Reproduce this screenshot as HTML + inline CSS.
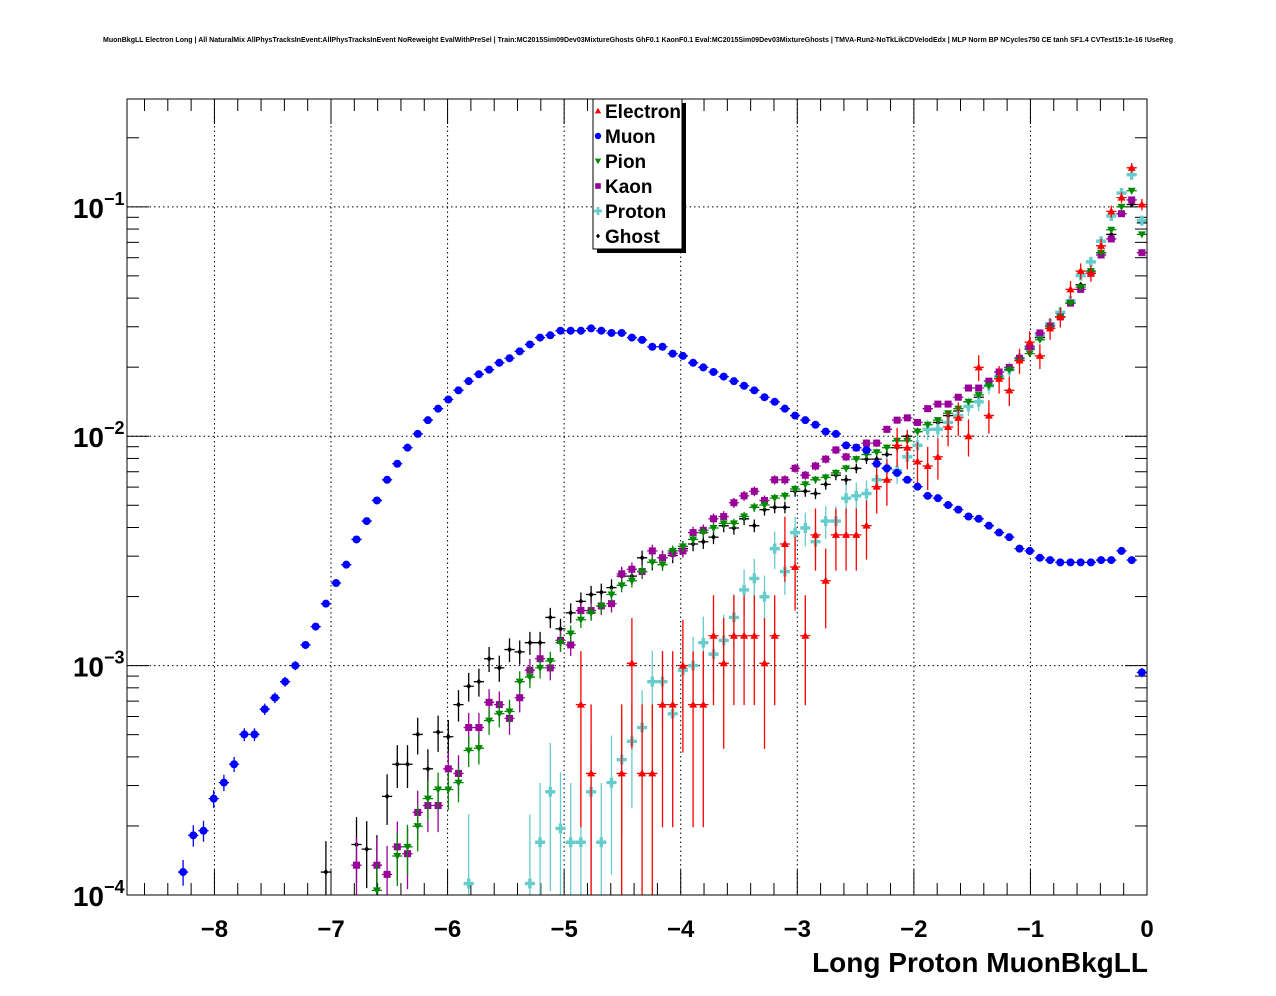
<!DOCTYPE html>
<html><head><meta charset="utf-8"><style>
html,body{margin:0;padding:0;background:#fff}
svg{display:block}
text{font-family:"Liberation Sans",Arial,sans-serif;font-weight:bold}
</style></head><body>
<svg id="chart" width="1276" height="996" viewBox="0 0 1276 996" xmlns="http://www.w3.org/2000/svg">
<rect x="0" y="0" width="1276" height="996" fill="#fff"/>
<text x="638" y="42" font-size="7" text-anchor="middle" textLength="1070" lengthAdjust="spacingAndGlyphs">MuonBkgLL Electron Long | All NaturalMix AllPhysTracksInEvent:AllPhysTracksInEvent NoReweight EvalWithPreSel | Train:MC2015Sim09Dev03MixtureGhosts GhF0.1 KaonF0.1 Eval:MC2015Sim09Dev03MixtureGhosts | TMVA-Run2-NoTkLikCDVelodEdx | MLP Norm BP NCycles750 CE tanh SF1.4 CVTest15:1e-16 !UseReg</text>
<g id="grid"></g>
<g id="axes"></g>
<g id="series"></g>
<rect x="127" y="99" width="1020" height="796" fill="none" stroke="#000" stroke-width="1"/>
<g id="legend">
<rect x="597" y="103" width="89" height="150" fill="#000"/>
<rect x="593" y="99" width="89" height="150" fill="#fff" stroke="#000" stroke-width="1"/>
</g>
<text x="1148" y="972" font-size="28" text-anchor="end">Long Proton MuonBkgLL</text>
</svg>
<script>
// ---- data (log10 of normalised entries per bin; bins of width 0.0875 from -8.75) ----
const binLow = -8.75;
const binWidth = 0.0875;
const xTickValues = [-8,-7,-6,-5,-4,-3,-2,-1,0];
const xTickLabels = ["\u22128","\u22127","\u22126","\u22125","\u22124","\u22123","\u22122","\u22121","0"];
const yDecades = [-4,-3,-2,-1];
const yTickLabels = ["\u22124","\u22123","\u22122","\u22121"];
const seriesNames = ["Electron","Muon","Pion","Kaon","Proton","Ghost"];

const muonFirstBin = 5;
const muonLog10 = [-3.90,-3.74,-3.72,-3.58,-3.51,-3.43,-3.30,-3.30,-3.19,-3.14,-3.07,-3.00,-2.91,-2.83,-2.73,-2.64,-2.56,-2.45,-2.37,-2.28,-2.19,-2.12,-2.05,-1.99,-1.93,-1.88,-1.84,-1.80,-1.76,-1.73,-1.71,-1.68,-1.66,-1.63,-1.60,-1.57,-1.56,-1.54,-1.54,-1.54,-1.53,-1.54,-1.55,-1.55,-1.57,-1.58,-1.61,-1.61,-1.64,-1.65,-1.68,-1.70,-1.72,-1.74,-1.76,-1.78,-1.80,-1.83,-1.85,-1.88,-1.91,-1.93,-1.95,-1.98,-1.99,-2.04,-2.05,-2.06,-2.12,-2.14,-2.16,-2.19,-2.22,-2.26,-2.27,-2.30,-2.32,-2.35,-2.36,-2.39,-2.42,-2.44,-2.49,-2.50,-2.53,-2.54,-2.55,-2.55,-2.55,-2.55,-2.54,-2.54,-2.50,-2.54,-3.03];

const kaonFirstBin = 22;
const kaonLog10 = [-3.87,null,-3.87,-3.91,-3.79,-3.82,-3.64,-3.61,-3.61,-3.45,-3.47,-3.27,-3.27,-3.16,-3.17,-3.23,-3.14,-3.02,-2.97,-3.01,-2.89,-2.91,-2.76,-2.76,-2.74,-2.73,-2.60,-2.58,-2.59,-2.50,-2.53,-2.51,-2.50,-2.42,-2.41,-2.36,-2.35,-2.29,-2.26,-2.24,-2.28,-2.19,-2.19,-2.14,-2.17,-2.13,-2.10,-2.06,-2.09,-2.05,-2.03,-2.03,-1.97,-1.93,-1.92,-1.94,-1.88,-1.86,-1.86,-1.83,-1.79,-1.79,-1.76,-1.72,-1.70,-1.66,-1.61,-1.55,-1.52,-1.48,-1.42,-1.36,-1.29,-1.21,-1.14,-1.03,-0.97,-1.20];

const pionFirstBin = 24;
const pionLog10 = [-3.98,null,-3.83,-3.79,-3.70,-3.58,-3.54,-3.54,-3.51,-3.37,-3.36,-3.24,-3.21,-3.20,-3.07,-3.05,-3.01,-2.98,-2.90,-2.86,-2.80,-2.77,-2.74,-2.69,-2.65,-2.63,-2.59,-2.55,-2.56,-2.50,-2.48,-2.45,-2.42,-2.40,-2.38,-2.38,-2.35,-2.31,-2.30,-2.27,-2.26,-2.23,-2.21,-2.19,-2.18,-2.16,-2.14,-2.10,-2.08,-2.07,-2.05,-2.02,-2.02,-1.98,-1.95,-1.93,-1.90,-1.88,-1.85,-1.82,-1.78,-1.75,-1.71,-1.67,-1.64,-1.58,-1.53,-1.48,-1.42,-1.35,-1.28,-1.20,-1.10,-1.00,-0.93,-1.12];

const ghostFirstBin = 19;
const ghostLog10 = [-3.90,null,null,-3.78,-3.80,-3.87,-3.57,-3.43,-3.43,-3.30,-3.45,-3.29,-3.31,-3.17,-3.09,-3.07,-2.97,-3.01,-2.93,-2.94,-2.90,-2.90,-2.79,-2.84,-2.77,-2.72,-2.69,-2.68,-2.66,-2.61,-2.61,-2.53,-2.55,-2.53,-2.52,-2.49,-2.47,-2.46,-2.44,-2.39,-2.40,-2.36,-2.39,-2.32,-2.31,-2.31,-2.24,-2.24,-2.25,-2.21,-2.17,-2.19,-2.14,-2.10,-2.10,-2.08,-2.05,-2.00,-1.98,-1.97,-1.94,-1.91,-1.89,-1.85,-1.83,-1.78,-1.75,-1.71,-1.67,-1.62,-1.57,-1.53,-1.48,-1.42,-1.34,-1.29,-1.20,-1.12,-1.03,-0.99,-1.07];

const protonFirstBin = 33;
const protonLog10 = [-3.95,null,null,null,null,null,-3.95,-3.77,-3.55,-3.71,-3.77,-3.77,-3.55,-3.77,-3.51,-3.41,-3.33,-3.27,-3.07,-3.07,-3.21,-3.02,-3.00,-2.90,-2.95,-2.89,-2.79,-2.67,-2.62,-2.70,-2.49,-2.59,-2.42,-2.40,-2.46,-2.37,-2.37,-2.27,-2.26,-2.25,-2.19,-2.14,-2.15,-2.09,-2.04,-1.97,-1.97,-1.94,-1.91,-1.87,-1.85,-1.78,-1.74,-1.71,-1.66,-1.61,-1.56,-1.51,-1.46,-1.41,-1.30,-1.24,-1.15,-1.04,-0.94,-0.86,-1.06];

const electronFirstBin = 44;
const electronLog10 = [-3.17,-3.47,null,null,-3.47,-2.99,-3.47,-3.47,-3.17,-3.17,-3.00,-3.17,-3.17,-2.87,-2.99,-2.87,-2.87,-2.87,-2.99,-2.87,-2.47,-2.57,-2.87,-2.43,-2.63,-2.43,-2.43,-2.43,-2.39,-2.22,-2.19,-2.04,-2.05,-2.11,-2.13,-2.09,-1.96,-1.92,-2.00,-1.70,-1.91,-1.75,-1.80,-1.67,-1.59,-1.65,-1.53,-1.48,-1.36,-1.28,-1.29,-1.17,-1.02,-0.96,-0.83,-0.99];

// approximate sample sizes (for statistical error bars)
const sampleSize = {Electron:2950, Muon:480000, Pion:100000, Kaon:74000, Proton:8900, Ghost:60000};

// ---- axes ----
const NS="http://www.w3.org/2000/svg";
const X0=127,X1=1147,Y0=99,Y1=895;
const XMIN=-8.75,XMAX=0,LMIN=-4,LMAX=-0.53;
function xs(v){return X0+(v-XMIN)/(XMAX-XMIN)*(X1-X0);}
function ys(l){return Y1-(l-LMIN)/(LMAX-LMIN)*(Y1-Y0);}
function el(tag,attrs,parent){const e=document.createElementNS(NS,tag);for(const k in attrs)e.setAttribute(k,attrs[k]);parent.appendChild(e);return e;}
const grid=document.getElementById('grid'),axes=document.getElementById('axes'),ser=document.getElementById('series');

xTickValues.forEach((v,i)=>{
  const x=xs(v);
  if(v>XMIN&&v<XMAX){const g=el('line',{x1:x,x2:x,y1:Y0,y2:Y1,stroke:'#000','stroke-dasharray':'1.5,3','stroke-width':1},grid);
  
  }
  const t=el('text',{x:x,y:937,'font-size':24,'text-anchor':'middle'},axes);
  t.textContent=xTickLabels[i];
  
  
});
for(let k=0;k<=45;k++){
  const v=-9+k*0.2; if(v<XMIN-1e-9||v>XMAX+1e-9) continue;
  const major=Math.abs(v-Math.round(v))<1e-6;
  const len=major?25:12,x=xs(v);
  const a=el('line',{x1:x,x2:x,y1:Y1,y2:Y1-len,stroke:'#000','stroke-width':1},axes);
  
  
  const b=el('line',{x1:x,x2:x,y1:Y0,y2:Y0+len,stroke:'#000','stroke-width':1},axes);
  
  
}
yDecades.forEach((d,i)=>{
  const y=ys(d);
  if(d>LMIN){const g=el('line',{x1:X0,x2:X1,y1:y,y2:y,stroke:'#000','stroke-dasharray':'1.5,3','stroke-width':1},grid);
  
  }
  const t=el('text',{x:104,y:y+11,'font-size':28,'text-anchor':'end'},axes);
  t.textContent='10';
  
  
  const s=el('text',{x:104,y:y-2,'font-size':18,'text-anchor':'start'},axes);
  s.textContent=yTickLabels[i];
  
  
});
for(let d=-4;d<=-1;d++){
  for(let m=1;m<=9;m++){
    const l=d+Math.log10(m); if(l<LMIN-1e-9||l>LMAX) continue;
    const y=ys(l),len=(m===1)?22:12;
    const a=el('line',{x1:X0,x2:X0+len,y1:y,y2:y,stroke:'#000','stroke-width':1},axes);
    
    
    const b=el('line',{x1:X1,x2:X1-len,y1:y,y2:y,stroke:'#000','stroke-width':1},axes);
    
    
  }
}

function marker(kind,x,y,color,parent,scale){
  const s=scale||1;let e;
  if(kind==='tri-up') e=el('polygon',{points:`${x},${y-4*s} ${x-4*s},${y+3*s} ${x+4*s},${y+3*s}`,fill:color},parent);
  else if(kind==='circle') e=el('circle',{cx:x,cy:y,r:4*s,fill:color},parent);
  else if(kind==='tri-down') e=el('polygon',{points:`${x},${y+4*s} ${x-4*s},${y-3*s} ${x+4*s},${y-3*s}`,fill:color},parent);
  else if(kind==='square') e=el('rect',{x:x-3.5*s,y:y-3.5*s,width:7*s,height:7*s,fill:color},parent);
  else if(kind==='cross') e=el('path',{d:`M${x-1.7*s},${y-5*s}h${3.4*s}v${3.3*s}h${3.3*s}v${3.4*s}h${-3.3*s}v${3.3*s}h${-3.4*s}v${-3.3*s}h${-3.3*s}v${-3.4*s}h${3.3*s}z`,fill:color},parent);
  else e=el('polygon',{points:`${x},${y-3*s} ${x+2.5*s},${y} ${x},${y+3*s} ${x-2.5*s},${y}`,fill:color},parent);
  return e;
}
const seriesDefs=[
  {name:'Ghost',first:ghostFirstBin,data:ghostLog10,color:'#000000',kind:'diamond'},
  {name:'Proton',first:protonFirstBin,data:protonLog10,color:'#66cccc',kind:'cross'},
  {name:'Kaon',first:kaonFirstBin,data:kaonLog10,color:'#990099',kind:'square'},
  {name:'Pion',first:pionFirstBin,data:pionLog10,color:'#008800',kind:'tri-down'},
  {name:'Electron',first:electronFirstBin,data:electronLog10,color:'#ff0000',kind:'tri-up'},
  {name:'Muon',first:muonFirstBin,data:muonLog10,color:'#0000ff',kind:'circle'}
];
seriesDefs.forEach(sd=>{
  const g=el('g',{},ser);
  
  
  sd.data.forEach((l,j)=>{
    if(l===null) return;
    const i=sd.first+j;
    const c=binLow+binWidth*(i+0.5);
    const x=xs(c),y=ys(l);
    const v=Math.pow(10,l),N=v*sampleSize[sd.name],r=1/Math.sqrt(N);
    const up=Math.max(Y0,ys(Math.log10(v*(1+r))));
    const lo=(1-r)>0?Math.min(Y1,ys(Math.log10(v*(1-r)))):Y1;
    const hw=xs(binWidth/2)-xs(0);
    const eb=el('path',{d:`M${x},${up}V${lo}M${x-hw},${y}H${x+hw}`,stroke:sd.color,'stroke-width':1.3,fill:'none'},g);
    
    
    if(y>=Y0&&y<=Y1){
      const m=marker(sd.kind,x,y,sd.color,g,1);
      
      
    }
  });
});

const leg=document.getElementById('legend');
const legKinds={Electron:['tri-up','#ff0000'],Muon:['circle','#0000ff'],Pion:['tri-down','#008800'],Kaon:['square','#990099'],Proton:['cross','#66cccc'],Ghost:['diamond','#000000']};
seriesNames.forEach((n,k)=>{
  const y=111+k*25;
  const m=marker(legKinds[n][0],598,y,legKinds[n][1],leg,0.8);
  
  
  const t=el('text',{x:605,y:y+7,'font-size':19},leg);
  t.textContent=n;
  
  
});
</script>
</body></html>
